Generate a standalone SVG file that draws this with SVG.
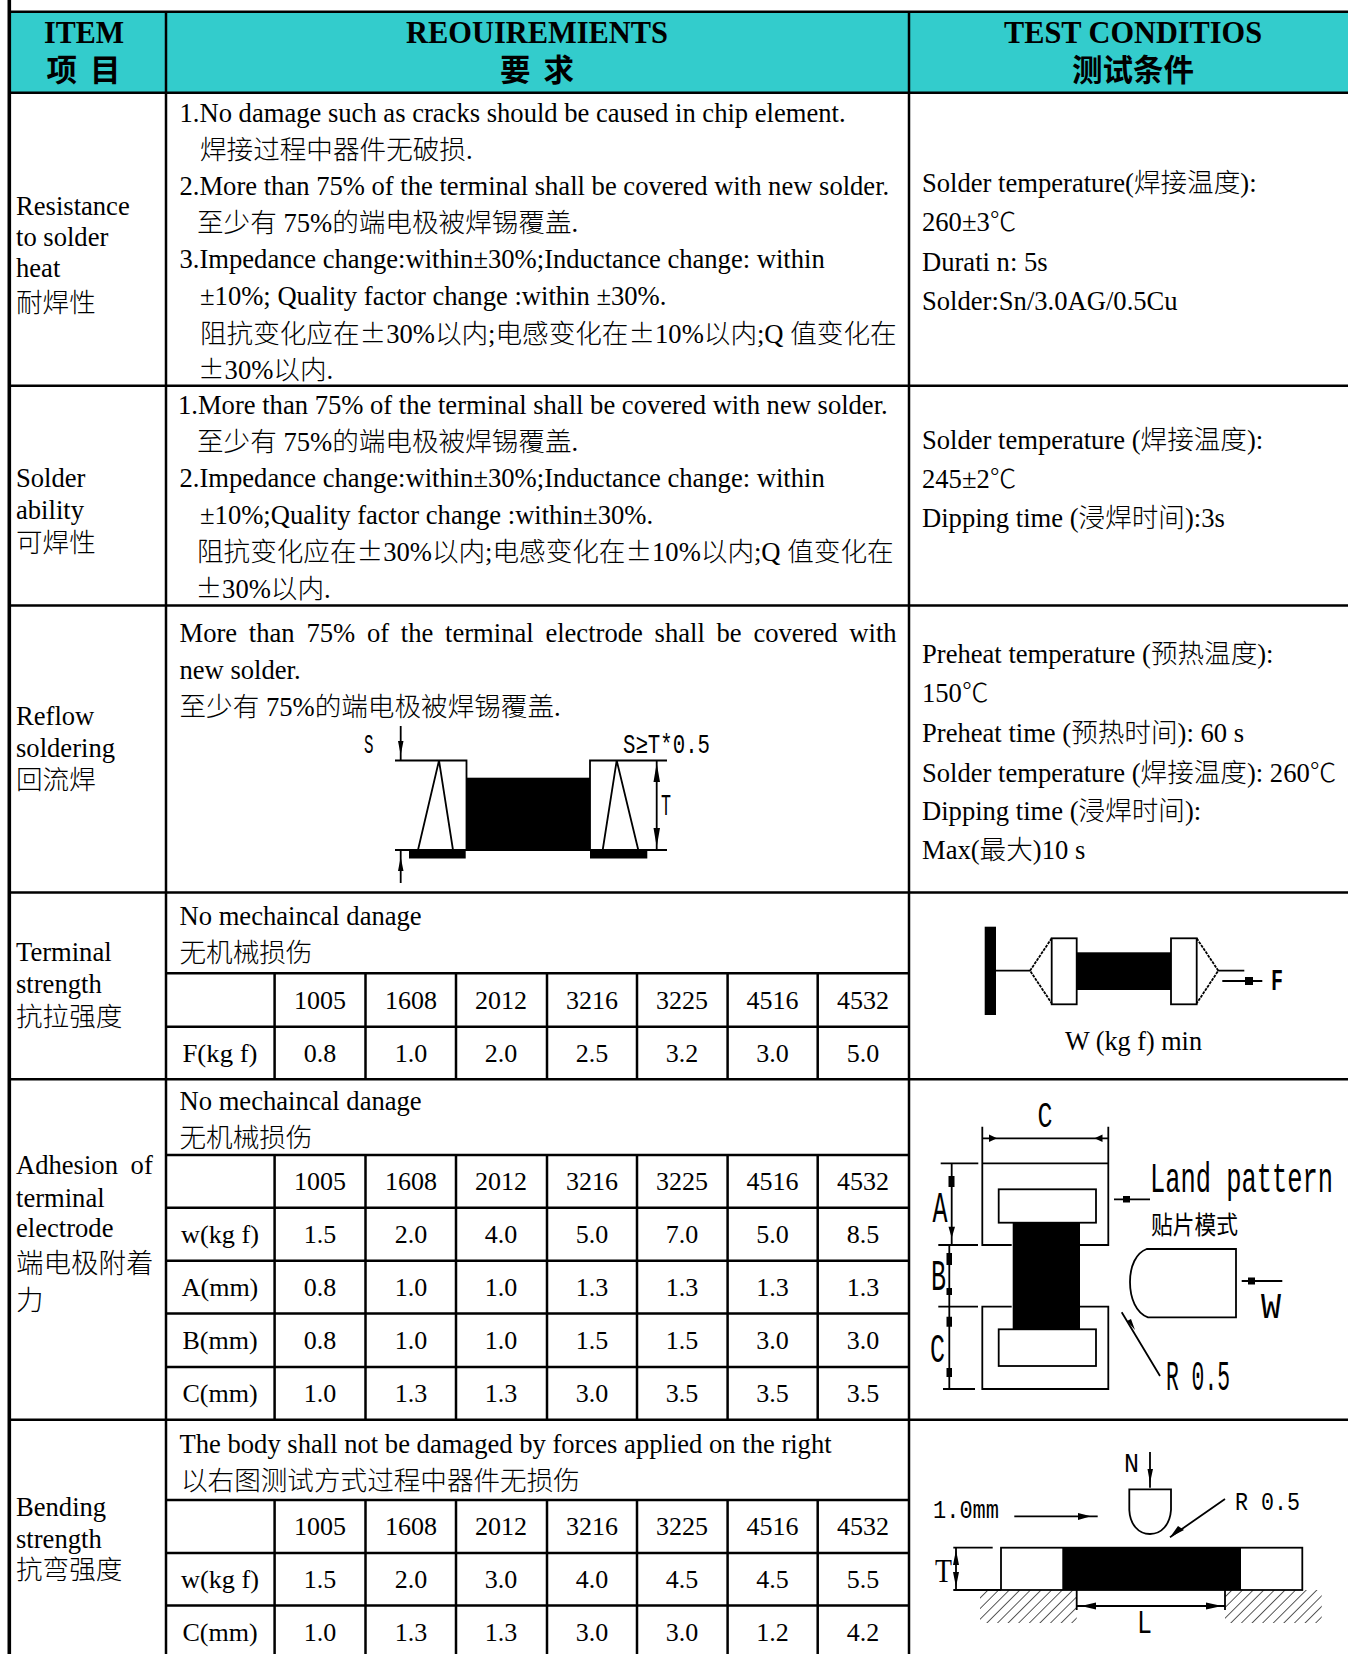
<svg xmlns="http://www.w3.org/2000/svg" width="1348" height="1654" viewBox="0 0 1348 1654">
<style>
text{font-family:"Liberation Serif","Noto Sans CJK SC",serif;font-size:26.6px;font-weight:300;fill:#000}
.h{font-size:32px;font-weight:700;text-anchor:middle}
.n{font-size:26px;text-anchor:middle}
.k{font-family:"Noto Sans CJK SC",sans-serif}
.m{font-family:"Liberation Mono",monospace}
.g{stroke:#000;stroke-width:2.5;fill:none}
.c{stroke:#000;stroke-width:1.8;fill:none}
.w{stroke:#000;stroke-width:1.8;fill:#fff}
.d{stroke:#000;stroke-width:1.8;fill:none;stroke-dasharray:3 1}
</style>
<defs>
<pattern id="hatch" width="7.5" height="7.5" patternUnits="userSpaceOnUse" patternTransform="rotate(45)">
<line x1="0" y1="0" x2="0" y2="7.5" stroke="#000" stroke-width="1.3"/>
</pattern>
</defs>
<rect width="1348" height="1654" fill="#fff"/>
<rect x="9" y="12" width="1339" height="81" fill="#33CCCC"/>
<g id="grid" class="g">
<path d="M9.3 0V1654" stroke-width="3.6"/>
<path d="M9 11.7H1348M9 92.7H1348M9 385.7H1348M9 605.5H1348M9 892.6H1348M9 1079.3H1348M9 1419.7H1348"/>
<path d="M166 11.7V1654M909 11.7V1654"/>
<path d="M166 973.3H909M166 1026.7H909M166 1155H909M166 1207.7H909M166 1260.7H909M166 1313.5H909M166 1367H909M166 1500H909M166 1553H909M166 1605.5H909"/>
<path d="M274.6 973.3V1079.3M365.5 973.3V1079.3M456 973.3V1079.3M547 973.3V1079.3M637 973.3V1079.3M727.6 973.3V1079.3M817.7 973.3V1079.3"/>
<path d="M274.6 1155V1419.7M365.5 1155V1419.7M456 1155V1419.7M547 1155V1419.7M637 1155V1419.7M727.6 1155V1419.7M817.7 1155V1419.7"/>
<path d="M274.6 1500V1654M365.5 1500V1654M456 1500V1654M547 1500V1654M637 1500V1654M727.6 1500V1654M817.7 1500V1654"/>
</g>
<g id="header">
<text class="h" x="84" y="43" textLength="80" lengthAdjust="spacingAndGlyphs">ITEM</text>
<text class="h" x="83.500" y="81" style="font-size:30.5px" word-spacing="5.400">项 目</text>
<text class="h" x="537" y="43" textLength="262" lengthAdjust="spacingAndGlyphs">REOUIREMIENTS</text>
<text class="h" x="537" y="81" style="font-size:30.5px" word-spacing="5.400">要 求</text>
<text class="h" x="1133" y="43" textLength="258" lengthAdjust="spacingAndGlyphs">TEST CONDITIOS</text>
<text class="h" x="1133" y="81" style="font-size:30.5px">测试条件</text>
</g>
<g id="row-resistance">
<text x="16" y="215">Resistance</text>
<text x="16" y="246">to solder</text>
<text x="16" y="277">heat</text>
<text x="16" y="312">耐焊性</text>
<text x="179.5" y="122">1.No damage such as cracks should be caused in chip element.</text>
<text x="200" y="159">焊接过程中器件无破损.</text>
<text x="179.5" y="195">2.More than 75% of the terminal shall be covered with new solder.</text>
<text x="197" y="232">至少有 75%的端电极被焊锡覆盖.</text>
<text x="179.5" y="268">3.Impedance change:within±30%;Inductance change: within</text>
<text x="200" y="305">±10%; Quality factor change :within ±30%.</text>
<text x="200" y="342.500">阻抗变化应在<tspan class="k">±</tspan>30%以内;电感变化在<tspan class="k">±</tspan>10%以内;Q 值变化在</text>
<text x="198" y="379"><tspan class="k">±</tspan>30%以内.</text>
<text x="922" y="192">Solder temperature(焊接温度):</text>
<text x="922" y="231">260±3<tspan class="k">℃</tspan></text>
<text x="922" y="271">Durati n: 5s</text>
<text x="922" y="310">Solder:Sn/3.0AG/0.5Cu</text>
</g>
<g id="row-solderability">
<text x="16" y="487">Solder</text>
<text x="16" y="519">ability</text>
<text x="16" y="552">可焊性</text>
<text x="178" y="413.5">1.More than 75% of the terminal shall be covered with new solder.</text>
<text x="197" y="451">至少有 75%的端电极被焊锡覆盖.</text>
<text x="179.5" y="487">2.Impedance change:within±30%;Inductance change: within</text>
<text x="200" y="523.5">±10%;Quality factor change :within±30%.</text>
<text x="197" y="560.500">阻抗变化应在<tspan class="k">±</tspan>30%以内;电感变化在<tspan class="k">±</tspan>10%以内;Q 值变化在</text>
<text x="195.500" y="597.500"><tspan class="k">±</tspan>30%以内.</text>
<text x="922" y="449">Solder temperature (焊接温度):</text>
<text x="922" y="488">245±2<tspan class="k">℃</tspan></text>
<text x="922" y="527">Dipping time (浸焊时间):3s</text>
</g>
<g id="row-reflow">
<text x="16" y="724.500">Reflow</text>
<text x="16" y="757">soldering</text>
<text x="16" y="789">回流焊</text>
<text x="179.5" y="642" word-spacing="5.1">More than 75% of the terminal electrode shall be covered with</text>
<text x="179.5" y="679">new solder.</text>
<text x="179.5" y="716">至少有 75%的端电极被焊锡覆盖.</text>
<text x="922" y="662.500">Preheat temperature (预热温度):</text>
<text x="922" y="701.500">150<tspan class="k">℃</tspan></text>
<text x="922" y="741.5">Preheat time (预热时间): 60 s</text>
<text x="922" y="781.5">Solder temperature (焊接温度): 260<tspan class="k">℃</tspan></text>
<text x="922" y="819.5">Dipping time (浸焊时间):</text>
<text x="922" y="858.500">Max(最大)10 s</text>
</g>
<g id="figure-reflow">
<rect x="466.5" y="777.7" width="123.5" height="72.3" fill="#000"/>
<rect x="409" y="850" width="56.7" height="8.5" fill="#000"/>
<rect x="590" y="850" width="57.3" height="8.5" fill="#000"/>
<path class="c" d="M395 760.5H466.5V850M395 850H667M667 760.5H590V850M439 760.5L418 850M439 760.5L453 850M616.7 760.5L602.7 850M616.7 760.5L638.3 850M400.7 726V760M400.7 850V883M656.7 760.5V850"/>
<path d="M398 741H403.500L400.700 755ZM398 871H403.500L400.700 857ZM653.500 782H660L656.700 763ZM653.500 828H660L656.700 847Z" fill="#000"/>
<text class="m" x="364" y="753" style="font-size:28px" textLength="9.500" lengthAdjust="spacingAndGlyphs">S</text>
<text class="m" x="623" y="753" style="font-size:27px" textLength="87" lengthAdjust="spacingAndGlyphs">S≥T*0.5</text>
<text class="m" x="661" y="815" style="font-size:30px" textLength="10" lengthAdjust="spacingAndGlyphs">T</text>
</g>
<g id="row-terminal">
<text x="16" y="961">Terminal</text>
<text x="16" y="992.5">strength</text>
<text x="16" y="1026">抗拉强度</text>
<text x="179.5" y="925">No mechaincal danage</text>
<text x="179.5" y="962">无机械损伤</text>
<text class="n" y="1008.5" x="320">1005</text><text class="n" y="1008.5" x="411">1608</text><text class="n" y="1008.5" x="501">2012</text><text class="n" y="1008.5" x="592">3216</text><text class="n" y="1008.5" x="682">3225</text><text class="n" y="1008.5" x="772.600">4516</text><text class="n" y="1008.5" x="863">4532</text>
<text class="n" y="1061.7" x="220" textLength="75" lengthAdjust="spacingAndGlyphs">F(kg f)</text>
<text class="n" y="1061.7" x="320">0.8</text><text class="n" y="1061.7" x="411">1.0</text><text class="n" y="1061.7" x="501">2.0</text><text class="n" y="1061.7" x="592">2.5</text><text class="n" y="1061.7" x="682">3.2</text><text class="n" y="1061.7" x="772.600">3.0</text><text class="n" y="1061.7" x="863">5.0</text>
</g>
<g id="figure-terminal">
<rect x="984.7" y="926.700" width="11.3" height="88.300" fill="#000"/>
<rect x="1076.7" y="952.300" width="94.300" height="37.700" fill="#000"/>
<rect class="w" x="1051.7" y="938.300" width="25" height="66"/>
<rect class="w" x="1171" y="938.300" width="25.700" height="66"/>
<path class="c" d="M996 970.700H1030M1218.300 970.700H1244.300M1222.300 981H1262.300"/>
<path class="d" d="M1051.700 938.300L1030 970.700L1051.700 1003.300M1196.700 938.300L1218.300 970.700L1196.700 1003.300"/>
<rect x="1245" y="977" width="8" height="8" fill="#000"/>
<text class="m" x="1271" y="990" style="font-size:30px;font-weight:700" textLength="12" lengthAdjust="spacingAndGlyphs">F</text>
<text x="1065" y="1050" textLength="137" lengthAdjust="spacingAndGlyphs">W (kg f) min</text>
</g>
<g id="row-adhesion">
<text x="16" y="1174" word-spacing="6">Adhesion of</text>
<text x="16" y="1206.500">terminal</text>
<text x="16" y="1237">electrode</text>
<text x="16" y="1273" style="font-size:27.5px">端电极附着</text>
<text x="16" y="1310" style="font-size:27.5px">力</text>
<text x="179.5" y="1110">No mechaincal danage</text>
<text x="179.5" y="1147">无机械损伤</text>
<text class="n" y="1190" x="320">1005</text><text class="n" y="1190" x="411">1608</text><text class="n" y="1190" x="501">2012</text><text class="n" y="1190" x="592">3216</text><text class="n" y="1190" x="682">3225</text><text class="n" y="1190" x="772.600">4516</text><text class="n" y="1190" x="863">4532</text>
<text class="n" y="1243" x="220" textLength="78" lengthAdjust="spacingAndGlyphs">w(kg f)</text><text class="n" y="1243" x="320">1.5</text><text class="n" y="1243" x="411">2.0</text><text class="n" y="1243" x="501">4.0</text><text class="n" y="1243" x="592">5.0</text><text class="n" y="1243" x="682">7.0</text><text class="n" y="1243" x="772.600">5.0</text><text class="n" y="1243" x="863">8.5</text>
<text class="n" y="1296" x="220">A(mm)</text><text class="n" y="1296" x="320">0.8</text><text class="n" y="1296" x="411">1.0</text><text class="n" y="1296" x="501">1.0</text><text class="n" y="1296" x="592">1.3</text><text class="n" y="1296" x="682">1.3</text><text class="n" y="1296" x="772.600">1.3</text><text class="n" y="1296" x="863">1.3</text>
<text class="n" y="1349" x="220">B(mm)</text><text class="n" y="1349" x="320">0.8</text><text class="n" y="1349" x="411">1.0</text><text class="n" y="1349" x="501">1.0</text><text class="n" y="1349" x="592">1.5</text><text class="n" y="1349" x="682">1.5</text><text class="n" y="1349" x="772.600">3.0</text><text class="n" y="1349" x="863">3.0</text>
<text class="n" y="1402" x="220">C(mm)</text><text class="n" y="1402" x="320">1.0</text><text class="n" y="1402" x="411">1.3</text><text class="n" y="1402" x="501">1.3</text><text class="n" y="1402" x="592">3.0</text><text class="n" y="1402" x="682">3.5</text><text class="n" y="1402" x="772.600">3.5</text><text class="n" y="1402" x="863">3.5</text>
</g>
<g id="figure-adhesion">
<path class="c" d="M982.300 1126.700V1245H1011.700M1108.300 1126.700V1245H1080M982.300 1163.300H1108.300M982.300 1138.300H1108.300"/>
<path class="c" d="M1011.700 1306.700H982.300V1389H1108.300V1306.700H1080"/>
<rect x="1012.700" y="1222.700" width="67.300" height="106.600" fill="#000"/>
<rect class="w" x="998.700" y="1189.300" width="97.300" height="33.400"/>
<rect class="w" x="998.700" y="1329.300" width="97.300" height="36.700"/>
<path class="c" d="M940.700 1163.300H978.300M938.300 1245H978M938.300 1306.700H978M943 1389H975M951.700 1163.300V1245M949.300 1245V1389M1114 1199.300H1150M1241.700 1281H1282.300M1121.700 1312.300L1160 1376"/>
<path class="c" d="M1146.700 1249H1236V1317.300H1148C1136 1313 1130 1298 1130 1282C1130 1266 1136 1253 1146.700 1249Z"/>
<path d="M989 1134.500L997 1138.300L989 1142ZM1102.500 1134.500L1094.500 1138.300L1102.500 1142ZM948.500 1226.700H955L951.700 1238ZM946.500 1253H952V1265H946.500ZM946.500 1288H952V1295H946.500ZM946.500 1316.700H952V1326.700H946.500ZM946.500 1368H952V1377H946.500ZM1123 1196H1130V1202.500H1123ZM1248 1277.500H1255V1284.500H1248ZM1127 1321L1131 1319L1135 1330Z" fill="#000"/>
<rect x="948.500" y="1176" width="6" height="11" fill="#000"/>
<text class="m" x="1037.500" y="1126.700" style="font-size:36px" textLength="15" lengthAdjust="spacingAndGlyphs">C</text>
<text class="m" x="932.500" y="1221.700" style="font-size:44px" textLength="15" lengthAdjust="spacingAndGlyphs">A</text>
<text class="m" x="931" y="1290" style="font-size:44px" textLength="15" lengthAdjust="spacingAndGlyphs">B</text>
<text class="m" x="930" y="1361.700" style="font-size:40px" textLength="15" lengthAdjust="spacingAndGlyphs">C</text>
<text class="m" transform="translate(1150 1192) scale(.605 1)" style="font-size:42px">Land pattern</text>
<text class="k" x="1151" y="1234" style="font-size:25px;font-weight:400" textLength="87" lengthAdjust="spacingAndGlyphs">贴片模式</text>
<text class="m" x="1261" y="1318" style="font-size:37px" textLength="20" lengthAdjust="spacingAndGlyphs">W</text>
<text class="m" x="1166" y="1390" style="font-size:42px" textLength="64" lengthAdjust="spacingAndGlyphs">R 0.5</text>
</g>
<g id="row-bending">
<text x="16" y="1516">Bending</text>
<text x="16" y="1547.500">strength</text>
<text x="16" y="1579">抗弯强度</text>
<text x="179.5" y="1452.500">The body shall not be damaged by forces applied on the right</text>
<text x="181" y="1489.500">以右图测试方式过程中器件无损伤</text>
<text class="n" y="1535" x="320">1005</text><text class="n" y="1535" x="411">1608</text><text class="n" y="1535" x="501">2012</text><text class="n" y="1535" x="592">3216</text><text class="n" y="1535" x="682">3225</text><text class="n" y="1535" x="772.600">4516</text><text class="n" y="1535" x="863">4532</text>
<text class="n" y="1588" x="220" textLength="78" lengthAdjust="spacingAndGlyphs">w(kg f)</text><text class="n" y="1588" x="320">1.5</text><text class="n" y="1588" x="411">2.0</text><text class="n" y="1588" x="501">3.0</text><text class="n" y="1588" x="592">4.0</text><text class="n" y="1588" x="682">4.5</text><text class="n" y="1588" x="772.600">4.5</text><text class="n" y="1588" x="863">5.5</text>
<text class="n" y="1641" x="220">C(mm)</text><text class="n" y="1641" x="320">1.0</text><text class="n" y="1641" x="411">1.3</text><text class="n" y="1641" x="501">1.3</text><text class="n" y="1641" x="592">3.0</text><text class="n" y="1641" x="682">3.0</text><text class="n" y="1641" x="772.600">1.2</text><text class="n" y="1641" x="863">4.2</text>
</g>
<g id="figure-bending">
<rect x="980" y="1590" width="96.700" height="33" fill="url(#hatch)"/>
<rect x="1225" y="1590" width="96.700" height="33" fill="url(#hatch)"/>
<rect class="w" x="1001" y="1547.700" width="301.300" height="42.300"/>
<rect x="1062.300" y="1547.700" width="178.700" height="42.300" fill="#000"/>
<path class="c" d="M1150 1452V1487.700M1129.300 1489.300H1171V1510C1170 1524 1162 1534 1150 1534C1138 1534 1130 1524 1129.300 1510Z"/>
<path class="c" d="M1014.300 1516.300H1097.700M1225 1499L1170 1537.300M953.300 1547.700H992.700M953.300 1590H1001M956 1547.700V1590M1076.700 1590V1610M1225 1590V1610M1076.700 1606H1225"/>
<path d="M1147.500 1469H1153L1150 1483ZM1078 1513V1520L1091 1516.300ZM1170 1537.300L1178 1526L1184 1530ZM953 1565H959L956 1550ZM953 1572H959L956 1587ZM1096 1602.500V1609.500L1081 1606ZM1206 1602.500V1609.500L1222 1606Z" fill="#000"/>
<text class="m" x="1124" y="1471.700" style="font-size:27px" textLength="15" lengthAdjust="spacingAndGlyphs">N</text>
<text class="m" x="933" y="1518" style="font-size:25px" textLength="66" lengthAdjust="spacingAndGlyphs">1.0mm</text>
<text class="m" x="1235" y="1510" style="font-size:25px" textLength="65" lengthAdjust="spacingAndGlyphs">R 0.5</text>
<text x="935" y="1582" style="font-size:33px" textLength="17" lengthAdjust="spacingAndGlyphs">T</text>
<text class="m" x="1137" y="1633" style="font-size:33px" textLength="15" lengthAdjust="spacingAndGlyphs">L</text>
</g>
</svg>
